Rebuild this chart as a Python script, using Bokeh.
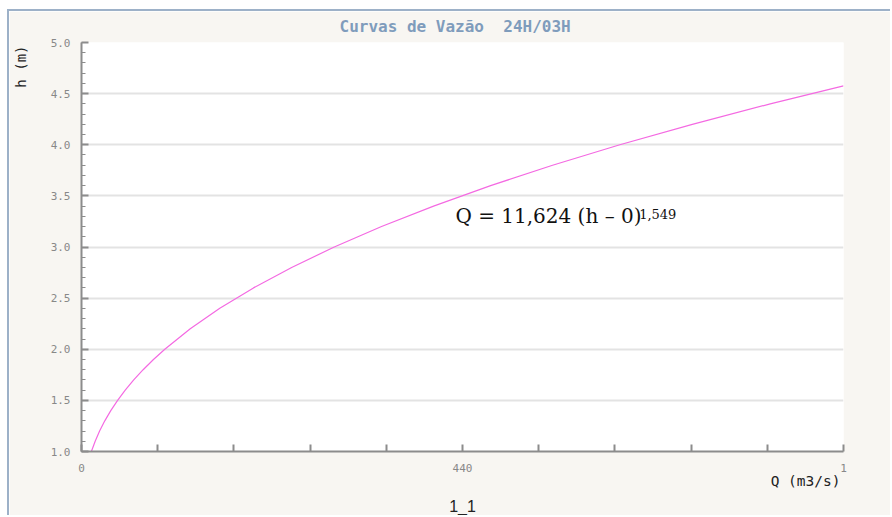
from bokeh.plotting import figure
from bokeh.models import (Label, FixedTicker, Range1d, PrintfTickFormatter, Title,
                          LinearAxis)
from bokeh.embed import file_html
from bokeh.resources import INLINE

# Data: stage h (m) and discharge Q (m3/s)
h_vals = [1.0, 1.1, 1.2, 1.3, 1.4, 1.5, 1.6, 1.7, 1.8, 1.9, 2.0, 2.2, 2.4, 2.6,
          2.8, 3.0, 3.2, 3.4, 3.6, 3.8, 4.0, 4.2, 4.4, 4.576]
q_vals = [11.4, 15.8, 20.9, 26.9, 33.8, 41.7, 50.5, 60.3, 71.2, 83.1, 96.2, 125.6,
          159.7, 198.6, 242.7, 291.9, 346.5, 406.6, 472.5, 544.0, 621.7, 705.4,
          795.4, 880.0]

x_ticks = [0, 88, 176, 264, 352, 440, 528, 616, 704, 792, 880]
x_tick_labels = {0: "0", 440: "440", 880: "1"}
y_ticks = [1.0, 1.5, 2.0, 2.5, 3.0, 3.5, 4.0, 4.5, 5.0]
y_minor = [round(1.0 + 0.1 * i, 1) for i in range(41)]

title_text = "Curvas de Vazão \u00a024H/03H"
brand_text = "SNIRH"
x_label = "Q (m3/s)"
y_label = "h (m)"
series_label = "1_1"
equation_text = "Q = 11,624 (h – 0)"
exponent_text = "1,549"

mono = "DejaVu Sans Mono"
panel_bg = "#f8f6f2"

p = figure(width=883, height=506, x_range=Range1d(0, 880), y_range=Range1d(1, 5),
           output_backend="svg", toolbar_location=None, title_location=None,
           min_border_left=72, min_border_right=49, min_border_top=31,
           min_border_bottom=66)
p.background_fill_color = "white"
p.border_fill_color = panel_bg
p.outline_line_color = None
p.styles = {"margin-left": "7px", "margin-top": "9px",
            "border-top": "2px solid #9db1c8", "border-left": "2px solid #9db1c8"}

p.xgrid.visible = False
p.ygrid.ticker = FixedTicker(ticks=y_ticks)
p.ygrid.grid_line_color = "#e3e3e3"
p.ygrid.grid_line_width = 2

xa = p.xaxis[0]
xa.ticker = FixedTicker(ticks=x_ticks)
overrides = {t: "" for t in x_ticks}
overrides.update(x_tick_labels)
xa.major_label_overrides = overrides
xa.axis_line_color = "#8c8c8c"
xa.axis_line_width = 2
xa.major_tick_line_color = "#8c8c8c"
xa.major_tick_line_width = 2
xa.major_tick_in = 7
xa.major_tick_out = 0
xa.minor_tick_line_color = None
xa.major_label_text_font = mono
xa.major_label_text_font_size = "11px"
xa.major_label_text_color = "#888888"
xa.major_label_standoff = 12

ya = p.yaxis[0]
ya.ticker = FixedTicker(ticks=y_ticks, minor_ticks=y_minor)
ya.formatter = PrintfTickFormatter(format="%.1f")
ya.axis_line_color = "#8c8c8c"
ya.axis_line_width = 2
ya.major_tick_line_color = "#8c8c8c"
ya.major_tick_line_width = 2
ya.major_tick_in = 7
ya.major_tick_out = 0
ya.minor_tick_line_color = "#8c8c8c"
ya.minor_tick_line_width = 1
ya.minor_tick_in = 4
ya.minor_tick_out = 0
ya.major_label_text_font = mono
ya.major_label_text_font_size = "11px"
ya.major_label_text_color = "#888888"
ya.major_label_standoff = 11

p.line(q_vals, h_vals, line_color="#f46ae2", line_width=1.2)

def spacer(size, side, at):
    # axis drawn in the panel colour: it only reserves space in a side panel
    ax = LinearAxis(ticker=FixedTicker(ticks=[at]), axis_line_color=None,
                    major_tick_line_color=panel_bg, minor_tick_line_color=None,
                    major_tick_in=0, major_tick_out=size, minor_tick_in=0,
                    minor_tick_out=0, major_label_standoff=0,
                    major_label_overrides={at: ""},
                    major_label_text_color=panel_bg,
                    major_label_text_font_size="1px")
    p.add_layout(ax, side)

# above: spacer next to the frame, then the title
spacer(9, "above", 0)
p.add_layout(Title(text=title_text, align="left", offset=258, standoff=-5,
                   text_font=mono, text_font_style="bold", text_font_size="16px",
                   text_color="#7f9cbc"), "above")

# below: axis, x label, spacer, series name
p.add_layout(Title(text=x_label, align="right", offset=3, standoff=-4,
                   vertical_align="top", text_font=mono, text_font_style="normal",
                   text_font_size="14.5px", text_color="#222222"), "below")
spacer(8, "below", 0)
p.add_layout(Title(text=series_label, align="center", standoff=-2,
                   text_font="Liberation Sans", text_font_style="normal",
                   text_font_size="16px", text_color="#222222"), "below")

# left: axis, spacer, y label
spacer(17, "left", 1.0)
p.add_layout(Title(text=y_label, align="right", offset=3, standoff=0,
                   vertical_align="top", text_font=mono, text_font_style="normal",
                   text_font_size="14px", text_color="#222222"), "left")

p.add_layout(Label(x=-69, y=429, x_units="screen", y_units="screen", text=brand_text,
                   text_font=mono, text_font_style="bold", text_font_size="16px",
                   text_color="white", text_align="left", text_baseline="middle"))
p.add_layout(Label(x=431.8, y=3.299, text=equation_text, text_font="DejaVu Serif",
                   text_font_size="20px", text_color="#111111", text_align="left",
                   text_baseline="alphabetic"))
p.add_layout(Label(x=644, y=3.327, text=exponent_text, text_font="DejaVu Serif",
                   text_font_size="13px", text_color="#111111", text_align="left",
                   text_baseline="alphabetic"))

open("out.html", "w").write(file_html(p, INLINE))
